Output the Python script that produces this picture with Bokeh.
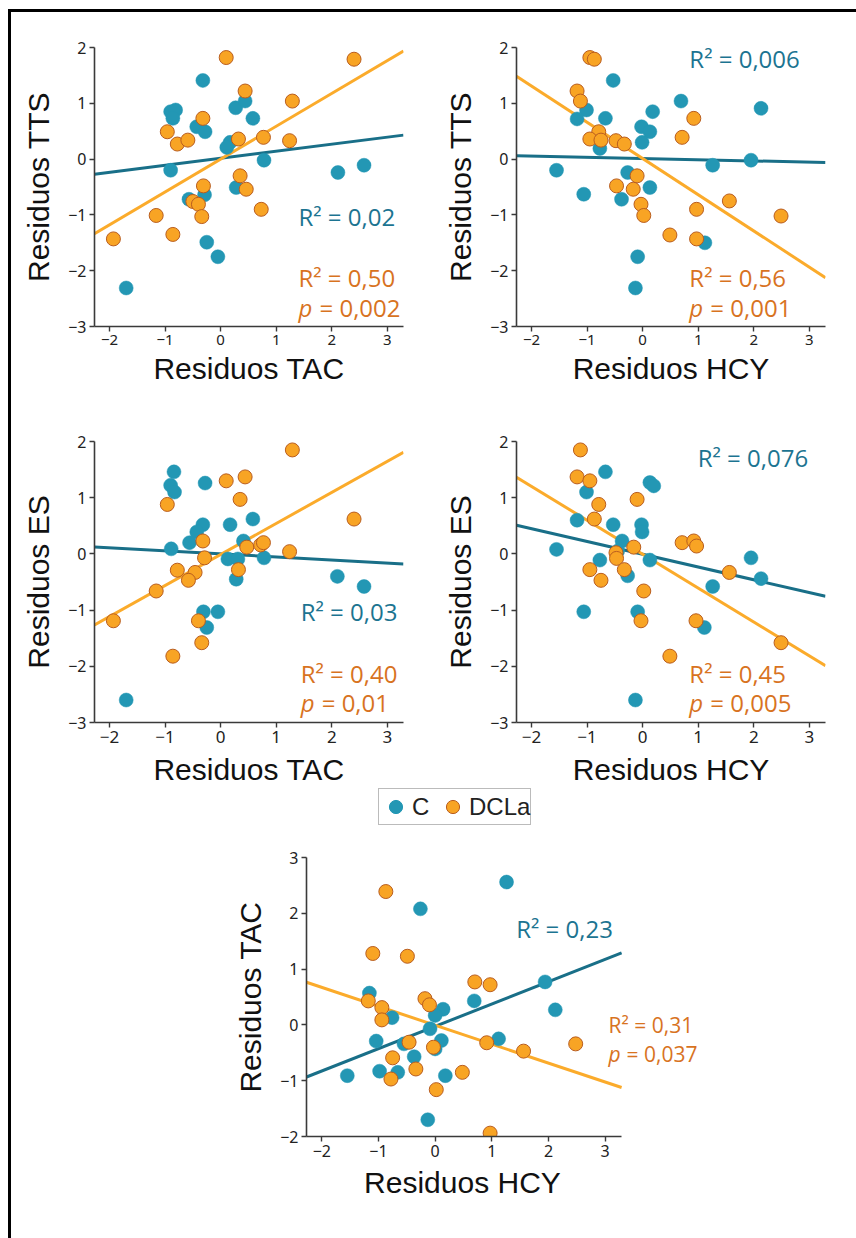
from bokeh.plotting import figure
from bokeh.layouts import column, row
from bokeh.models import Range1d, FixedTicker, Label, Legend, LegendItem, Plot
from bokeh.embed import file_html
from bokeh.resources import INLINE

# ---------------- data ----------------
# Panel 1: Residuos TAC (x) vs Residuos TTS (y)
p1_c_x = [-0.32, -0.90, -0.81, -0.86, -0.43, -0.28, 0.27, 0.44, 0.58, 0.17, 0.11, -0.90, 0.78, 2.11, 2.58, -0.57, -0.29, 0.28, -0.25, -0.05, -1.70]
p1_c_y = [1.41, 0.85, 0.88, 0.73, 0.58, 0.49, 0.92, 1.04, 0.73, 0.30, 0.21, -0.20, -0.02, -0.24, -0.11, -0.72, -0.64, -0.51, -1.49, -1.75, -2.31]
p1_d_x = [0.10, 2.40, 0.44, 1.29, -0.32, -0.96, -0.78, -0.59, 0.32, 0.77, 1.24, 0.35, -0.31, 0.46, -0.50, -0.40, -0.34, 0.73, -1.16, -0.86, -1.93]
p1_d_y = [1.82, 1.79, 1.22, 1.04, 0.73, 0.49, 0.27, 0.34, 0.36, 0.39, 0.33, -0.30, -0.48, -0.54, -0.76, -0.81, -1.03, -0.90, -1.01, -1.35, -1.43]

# Panel 2: Residuos HCY (x) vs Residuos TTS (y)
p2_c_x = [-0.53, -1.01, -1.18, -0.67, 0.18, 0.69, 2.13, -0.02, 0.13, -0.01, -0.77, -1.55, -1.06, -0.27, 0.13, -0.38, 1.26, 1.95, 1.12, -0.09, -0.13]
p2_c_y = [1.41, 0.88, 0.72, 0.73, 0.85, 1.04, 0.91, 0.58, 0.49, 0.30, 0.19, -0.20, -0.63, -0.24, -0.51, -0.72, -0.11, -0.02, -1.50, -1.75, -2.31]
p2_d_x = [-0.95, -0.87, -1.18, -1.12, 0.92, -0.79, -0.95, -0.75, -0.48, -0.33, 0.71, -0.10, -0.47, -0.17, -0.03, 0.02, 0.97, 1.56, 2.49, 0.49, 0.97]
p2_d_y = [1.82, 1.79, 1.22, 1.04, 0.73, 0.49, 0.36, 0.34, 0.33, 0.27, 0.39, -0.30, -0.48, -0.54, -0.81, -1.01, -0.90, -0.75, -1.02, -1.36, -1.43]

# Panel 3: Residuos TAC (x) vs Residuos ES (y)
p3_c_x = [-0.84, -0.90, -0.83, -0.28, -0.32, -0.43, -0.56, 0.17, 0.58, 0.41, -0.89, 0.13, 0.31, 0.78, 0.28, 2.10, 2.58, -0.31, -0.05, -0.25, -1.70]
p3_c_y = [1.46, 1.22, 1.10, 1.26, 0.52, 0.39, 0.20, 0.52, 0.62, 0.23, 0.09, -0.09, -0.09, -0.07, -0.45, -0.40, -0.58, -1.03, -1.03, -1.31, -2.60]
p3_d_x = [1.29, 0.10, 0.44, 0.35, -0.96, 2.40, -0.32, 0.47, 0.72, 0.77, 1.24, -0.29, -0.78, -0.46, -0.58, 0.32, -1.16, -1.93, -0.40, -0.34, -0.86]
p3_d_y = [1.85, 1.30, 1.37, 0.97, 0.88, 0.62, 0.23, 0.12, 0.16, 0.20, 0.04, -0.07, -0.29, -0.33, -0.47, -0.28, -0.66, -1.19, -1.19, -1.58, -1.82]

# Panel 4: Residuos HCY (x) vs Residuos ES (y)
p4_c_x = [-0.67, 0.13, 0.20, -1.01, -1.18, -0.53, -0.02, -0.01, -0.37, -1.55, -0.77, 0.13, -0.27, 1.95, 2.13, 1.26, -1.06, -0.09, 1.11, -0.13, -0.45]
p4_c_y = [1.46, 1.27, 1.21, 1.10, 0.60, 0.52, 0.52, 0.39, 0.23, 0.08, -0.11, -0.11, -0.39, -0.07, -0.44, -0.58, -1.03, -1.03, -1.31, -2.60, 0.05]
p4_d_x = [-1.12, -1.18, -0.95, -0.79, -0.10, -0.87, 0.71, 0.92, 0.97, -0.16, -0.48, -0.47, -0.95, -0.33, -0.75, 0.02, 1.56, -0.03, 0.96, 2.49, 0.49]
p4_d_y = [1.85, 1.37, 1.30, 0.88, 0.97, 0.62, 0.20, 0.23, 0.14, 0.12, 0.02, -0.08, -0.28, -0.28, -0.47, -0.66, -0.33, -1.19, -1.19, -1.58, -1.82]

# Panel 5: Residuos HCY (x) vs Residuos TAC (y)
p5_c_x = [1.26, -0.26, 1.94, -1.16, 0.69, 0.14, 2.12, -0.76, 0.00, -0.09, -1.04, -0.55, 0.11, 0.00, 1.12, -0.37, -0.98, -0.66, -1.55, 0.18, -0.13]
p5_c_y = [2.56, 2.08, 0.77, 0.57, 0.43, 0.28, 0.27, 0.13, 0.17, -0.07, -0.29, -0.34, -0.28, -0.43, -0.25, -0.57, -0.83, -0.85, -0.91, -0.91, -1.70]
p5_d_x = [-0.87, -1.10, -0.49, 0.70, 0.97, -1.18, -0.94, -0.94, -0.18, -0.10, -0.46, -0.03, 0.91, 1.56, 2.48, -0.75, -0.34, -0.78, 0.48, 0.02, 0.97]
p5_d_y = [2.39, 1.28, 1.23, 0.77, 0.72, 0.43, 0.31, 0.09, 0.47, 0.36, -0.31, -0.40, -0.32, -0.47, -0.34, -0.59, -0.79, -0.97, -0.85, -1.16, -1.94]

# Fitted lines (intercept, slope) per panel and group
lines_c = [(0.015, 0.126), (0.011, -0.022), (0.0, -0.055), (-0.007, -0.227), (-0.026, 0.40)]
lines_d = [(0.0, 0.589), (0.01, -0.649), (-0.01, 0.552), (-0.005, -0.603), (-0.006, -0.339)]

# Annotation texts
r2_c = ["R\u00b2 = 0,02", "R\u00b2 = 0,006", "R\u00b2 = 0,03", "R\u00b2 = 0,076", "R\u00b2 = 0,23"]
r2_d = ["R\u00b2 = 0,50", "R\u00b2 = 0,56", "R\u00b2 = 0,40", "R\u00b2 = 0,45", "R\u00b2 = 0,31"]
p_d = ["= 0,002", "= 0,001", "= 0,01", "= 0,005", "= 0,037"]

x_titles = ["Residuos TAC", "Residuos HCY", "Residuos TAC", "Residuos HCY", "Residuos HCY"]
y_titles = ["Residuos TTS", "Residuos TTS", "Residuos ES", "Residuos ES", "Residuos TAC"]
groups = ["C", "DCLa"]

# ---------------- style ----------------
TEAL = "#2397b4"
TEAL_LINE = "#196f88"
ORANGE = "#f8a424"
ORANGE_EDGE = "#b95d1f"
ORANGE_LINE = "#fbab2b"
TEAL_TXT = "#1c7491"
ORANGE_TXT = "#d8731f"
AX = "#3a3a3a"
TICK_FONT = "Noto Sans"
TITLE_FONT = "Liberation Sans"
ANN_FONT = "Open Sans"
NBSP = "\u00a0"

XB = (-2.27, 3.29)          # x extent of the axes
HAS_FRAME_ALIGN = "frame_align" in Plot.properties()


def minus(v):
    return ("\u2212%d" % -v) if v < 0 else "%d" % v


def base_fig(**kw):
    p = figure(output_backend="svg", toolbar_location=None, **kw)
    if HAS_FRAME_ALIGN:
        p.frame_align = False
    p.grid.visible = False
    p.outline_line_color = None
    p.background_fill_color = None
    p.border_fill_color = None
    return p


def make_panel(i, cx, cy, dx, dy, yb, width, height, bl, br, bt, bb,
               ann_c, ann_d, ann_p, xtick_size, xlab_standoff, xr=None, xtitle=None,
               ann_size_c="24px", ann_size_d="24px", p_offset=21):
    xr = xr or XB
    p = base_fig(width=width, height=height, x_range=Range1d(*xr), y_range=Range1d(*yb),
                 min_border_left=bl, min_border_right=br, min_border_top=bt, min_border_bottom=bb)
    xt = [-2, -1, 0, 1, 2, 3]
    yt = list(range(int(yb[0]), int(yb[1]) + 1))
    p.xaxis.ticker = FixedTicker(ticks=xt)
    p.yaxis.ticker = FixedTicker(ticks=yt)
    p.xaxis.bounds = XB
    p.xaxis.major_label_overrides = {v: minus(v) for v in xt}
    p.yaxis.major_label_overrides = {v: minus(v) for v in yt}
    for ax in (p.xaxis[0], p.yaxis[0]):
        ax.axis_line_color = AX
        ax.axis_line_width = 1.6
        ax.major_tick_line_color = AX
        ax.major_tick_line_width = 1.4
        ax.major_tick_out = 5
        ax.major_tick_in = 0
        ax.minor_tick_line_color = None
        ax.major_label_text_font = TICK_FONT
        ax.major_label_text_color = "#222222"
        ax.axis_label_text_font = TITLE_FONT
        ax.axis_label_text_font_size = "30px"
        ax.axis_label_text_font_style = "normal"
        ax.axis_label_text_color = "#111111"
    p.xaxis.major_label_text_font_size = xtick_size
    p.yaxis.major_label_text_font_size = "16px"
    p.xaxis.axis_label = xtitle if xtitle is not None else x_titles[i]
    p.yaxis.axis_label = y_titles[i]
    p.xaxis.major_label_standoff = 3
    p.yaxis.major_label_standoff = 3
    p.xaxis.axis_label_standoff = xlab_standoff
    p.yaxis.axis_label_standoff = 10

    for (a, b), col in ((lines_c[i], TEAL_LINE), (lines_d[i], ORANGE_LINE)):
        p.line([XB[0], XB[1]], [a + b * XB[0], a + b * XB[1]], line_color=col, line_width=3)
    rc = p.scatter(cx, cy, size=14, fill_color=TEAL, line_color=TEAL, line_width=0.5)
    rd = p.scatter(dx, dy, size=14, fill_color=ORANGE, line_color=ORANGE_EDGE, line_width=1)

    common = dict(text_align="left", text_baseline="middle", text_font=ANN_FONT)
    p.add_layout(Label(x=ann_c[0], y=ann_c[1], text=r2_c[i], text_color=TEAL_TXT,
                       text_font_size=ann_size_c, **common))
    p.add_layout(Label(x=ann_d[0], y=ann_d[1], text=r2_d[i], text_color=ORANGE_TXT,
                       text_font_size=ann_size_d, **common))
    p.add_layout(Label(x=ann_p[0], y=ann_p[1], text="p", text_font_style="italic",
                       text_color=ORANGE_TXT, text_font_size=ann_size_d, **common))
    p.add_layout(Label(x=ann_p[0], y=ann_p[1], x_offset=p_offset, text=p_d[i],
                       text_color=ORANGE_TXT, text_font_size=ann_size_d, **common))
    return p, rc, rd


f1, _, _ = make_panel(0, p1_c_x, p1_c_y, p1_d_x, p1_d_y, (-3, 2), 422, 394, 83, 30, 35, 80,
                      (1.40, -1.03), (1.40, -2.12), (1.40, -2.66), "15px", 4)
f2, _, _ = make_panel(1, p2_c_x, p2_c_y, p2_d_x, p2_d_y, (-3, 2), 423, 394, 83, 31, 35, 80,
                      (0.84, 1.81), (0.84, -2.12), (0.84, -2.66), "15px", 4)
f3, _, _ = make_panel(2, p3_c_x, p3_c_y, p3_d_x, p3_d_y, (-3, 2), 422, 390, 83, 30, 35, 74,
                      (1.44, -1.02), (1.44, -2.12), (1.44, -2.64), "17px", 7)
f4, _, _ = make_panel(3, p4_c_x, p4_c_y, p4_d_x, p4_d_y, (-3, 2), 423, 390, 83, 31, 35, 74,
                      (0.99, 1.71), (0.84, -2.12), (0.84, -2.64), "17px", 7)
# bottom panel: frame widened to the right so that its right-hand texts stay visible;
# the axis itself is bounded to the same extent as the others
f5, r5c, r5d = make_panel(4, p5_c_x, p5_c_y, p5_d_x, p5_d_y, (-2, 3), 845, 404, 295, 138, 23, 102,
                          (1.43, 1.72), (3.06, 0.0), (3.06, -0.52), "16px", 6,
                          xr=(-2.27, 5.0), xtitle=x_titles[4] + NBSP * 12,
                          ann_size_d="21px", p_offset=18)

# legend strip between the middle row and the bottom panel
lg = base_fig(width=845, height=50, x_range=Range1d(0, 1), y_range=Range1d(0, 1),
              x_axis_type=None, y_axis_type=None, min_border=0)
lg.styles = {"margin-top": "-12px"}
# proxies for the legend glyphs (kept outside the visible range)
lc = lg.scatter([-5], [-5], size=14, fill_color=TEAL, line_color=TEAL)
ld = lg.scatter([-5], [-5], size=14, fill_color=ORANGE, line_color=ORANGE_EDGE)
legend = Legend(items=[LegendItem(label=groups[0], renderers=[lc]),
                       LegendItem(label=groups[1], renderers=[ld])],
                orientation="horizontal", location=(367, 9))
legend.border_line_color = "#777777"
legend.border_line_width = 1.2
legend.background_fill_color = "white"
legend.background_fill_alpha = 1
legend.label_text_font = TITLE_FONT
legend.label_text_font_size = "24px"
legend.label_text_color = "#222222"
legend.glyph_width = 33
legend.glyph_height = 35
legend.label_height = 16
legend.label_standoff = 0
legend.spacing = 4
legend.padding = 0
legend.margin = 0
lg.add_layout(legend, "center")

layout = column(row(f1, f2), row(f3, f4), lg, f5,
                styles={"border-left": "3px solid black", "border-top": "3px solid black",
                        "margin-left": "8px", "margin-top": "9px"})

open("out.html", "w").write(file_html(layout, INLINE))
